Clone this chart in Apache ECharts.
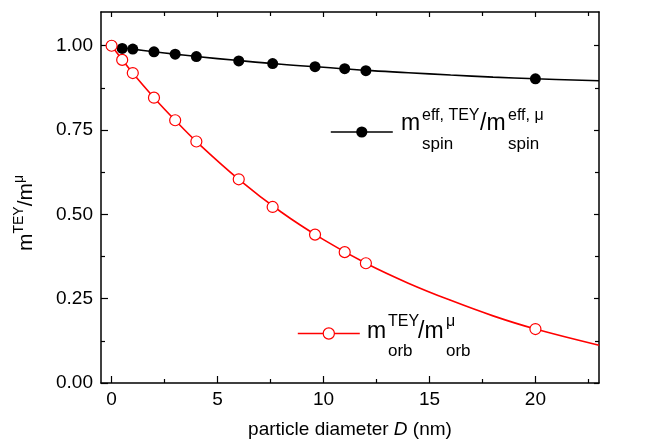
<!DOCTYPE html>
<html>
<head>
<meta charset="utf-8">
<script src="https://cdn.jsdelivr.net/npm/echarts@6/dist/echarts.min.js"></script>
<style>
  html, body { margin: 0; padding: 0; background: #fff; }
  #chart { width: 650px; height: 444px; }
</style>
</head>
<body>
<div id="chart"></div>
<script>
// measured points
const diameters = [0, 0.5, 1, 2, 3, 4, 6, 7.6, 9.6, 11, 12, 20];
const spinRatio = [1.00, 0.992, 0.990, 0.982, 0.975, 0.968, 0.955, 0.947, 0.938, 0.932, 0.926, 0.902];
const orbRatio = [1.00, 0.958, 0.919, 0.846, 0.779, 0.716, 0.604, 0.522, 0.440, 0.388, 0.355, 0.160];

// fit curves
const fitDiameters = [0, 1, 2, 3, 4, 6, 8, 10, 12, 14, 16, 18, 20, 23];
const spinFit = [0.998, 0.990, 0.982, 0.975, 0.968, 0.956, 0.945, 0.936, 0.927, 0.920, 0.913, 0.907, 0.902, 0.896];
const orbFit = [1.00, 0.919, 0.846, 0.779, 0.716, 0.604, 0.507, 0.425, 0.355, 0.296, 0.245, 0.199, 0.160, 0.112];

const xTicks = [0, 5, 10, 15, 20];
const xMinorTicks = [2.5, 7.5, 12.5, 17.5, 22.5];
const yTicks = [0, 0.25, 0.5, 0.75, 1.0];
const yMinorTicks = [0.125, 0.375, 0.625, 0.875];

const font = "'Liberation Sans', Arial, sans-serif";
const RED = "#ff0000";

const pairs = (xs, ys) => xs.map((x, i) => [x, ys[i]]);

function makeAxis(range, position, values, length, showLine, label) {
  return {
    type: "value",
    position: position,
    min: range[0],
    max: range[1],
    splitLine: { show: false },
    axisLine: { show: showLine, onZero: false, lineStyle: { color: "#000", width: 1.5 } },
    axisTick: { show: true, inside: true, length: length, customValues: values,
      lineStyle: { color: "#000", width: 1.2 } },
    axisLabel: label ? Object.assign({ customValues: values }, label) : { show: false },
  };
}

const xRange = [-0.5, 23];
const yRange = [0, 1.1];

const xLabel = { show: true, margin: 7, color: "#000", fontSize: 19, fontFamily: font };
const yLabel = { show: true, margin: 8, color: "#000", fontSize: 19, fontFamily: font,
  formatter: (v) => v.toFixed(2) };

const xMain = makeAxis(xRange, "bottom", xTicks, 7, true, xLabel);
xMain.name = "{a|particle diameter }{i|D}{a| (nm)}";
xMain.nameLocation = "middle";
xMain.nameGap = 37;
xMain.nameTextStyle = {
  color: "#000", fontSize: 19, fontFamily: font,
  rich: {
    a: { fontSize: 19, fontFamily: font, color: "#000" },
    i: { fontSize: 19, fontFamily: font, color: "#000", fontStyle: "italic" },
  },
};

// sub/superscript helpers for the legend texts (y given as baseline)
function txt(x, baseline, s, fs) {
  return {
    type: "text", x: x, y: baseline - 0.35 * fs, silent: true,
    style: { text: s, fontSize: fs, fontFamily: font, fill: "#000", align: "left", verticalAlign: "middle" },
  };
}

const chart = echarts.init(document.getElementById("chart"));

chart.setOption({
  animation: false,
  backgroundColor: "#fff",
  grid: { left: 101, right: 51, top: 12, bottom: 61 },
  xAxis: [
    xMain,
    makeAxis(xRange, "bottom", xMinorTicks, 4, false, null),
    makeAxis(xRange, "top", xTicks, 5, true, null),
    makeAxis(xRange, "top", xMinorTicks, 4, false, null),
  ],
  yAxis: [
    makeAxis(yRange, "left", yTicks, 7, true, yLabel),
    makeAxis(yRange, "left", yMinorTicks, 4, false, null),
    makeAxis(yRange, "right", yTicks, 5, true, null),
    makeAxis(yRange, "right", yMinorTicks, 4, false, null),
  ],
  legend: [
    {
      data: ["spin"], left: 330, top: 125, padding: 0,
      itemWidth: 62, itemHeight: 14, formatter: () => "",
      lineStyle: { color: "#000", width: 1.6, opacity: 1 },
      itemStyle: { color: "#000", borderWidth: 0 },
    },
    {
      data: ["orb"], left: 297, top: 326.5, padding: 0,
      itemWidth: 62, itemHeight: 14, formatter: () => "",
      lineStyle: { color: RED, width: 1.6, opacity: 1 },
      itemStyle: { color: "#fff", borderColor: RED, borderWidth: 1.2 },
    },
  ],
  series: [
    {
      name: "spinFit", type: "line", data: pairs(fitDiameters, spinFit), smooth: 0.4,
      showSymbol: false, symbol: "none", lineStyle: { color: "#000", width: 1.6 }, z: 2, silent: true,
    },
    {
      name: "orbFit", type: "line", data: pairs(fitDiameters, orbFit), smooth: 0.4,
      showSymbol: false, symbol: "none", lineStyle: { color: RED, width: 1.6 }, z: 2, silent: true,
    },
    {
      name: "spin", type: "line", data: pairs(diameters, spinRatio),
      symbol: "circle", symbolSize: 11, showSymbol: true,
      lineStyle: { opacity: 0, width: 0 }, itemStyle: { color: "#000" }, z: 3,
    },
    {
      name: "orb", type: "line", data: pairs(diameters, orbRatio),
      symbol: "circle", symbolSize: 11, showSymbol: true,
      lineStyle: { opacity: 0, width: 0 },
      itemStyle: { color: "#fff", borderColor: RED, borderWidth: 1.2 }, z: 4,
    },
  ],
  graphic: [
    {
      type: "text", x: 26, y: 213, rotation: Math.PI / 2, silent: true,
      style: {
        text: "{m|m}{s|TEY}{m|/m}{s|μ}",
        align: "center", verticalAlign: "middle", fill: "#000",
        rich: {
          m: { fontSize: 21, lineHeight: 28, fontFamily: font, fill: "#000" },
          s: { fontSize: 14, lineHeight: 14, verticalAlign: "top", fontFamily: font, fill: "#000" },
        },
      },
    },
    // spin legend text
    txt(401, 132, "m", 23),
    txt(422, 121, "eff, TEY", 16),
    txt(422, 150, "spin", 17),
    txt(480, 132, "/m", 23),
    txt(508, 121, "eff, μ", 16),
    txt(508, 150, "spin", 17),
    // orb legend text
    txt(367, 340, "m", 23),
    txt(388, 327, "TEY", 16),
    txt(388, 357, "orb", 17),
    txt(418, 340, "/m", 23),
    txt(446, 327, "μ", 16),
    txt(446, 357, "orb", 17),
  ],
});
</script>
</body>
</html>
